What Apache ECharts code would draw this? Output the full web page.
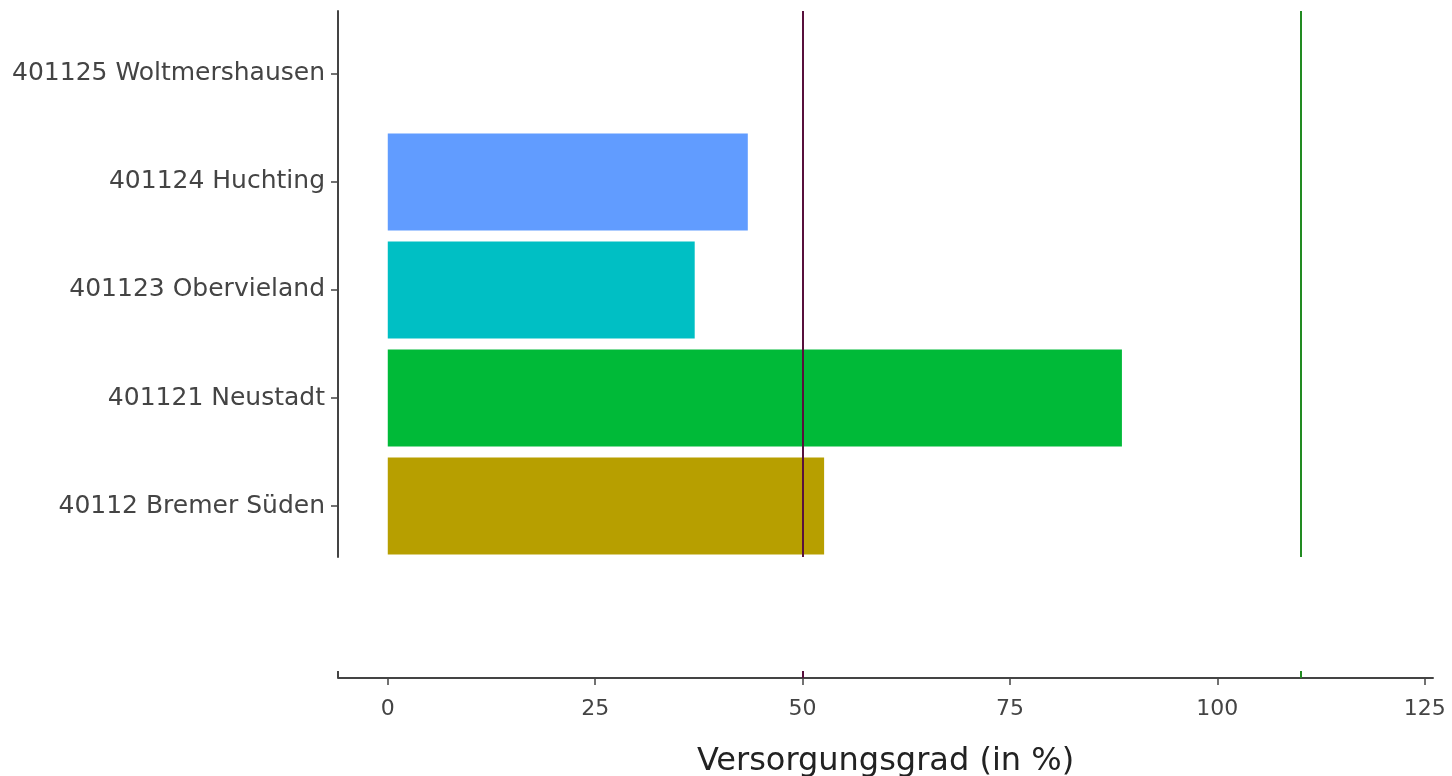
<!DOCTYPE html>
<html>
<head>
<meta charset="utf-8">
<script src="https://cdn.jsdelivr.net/npm/echarts@6/dist/echarts.min.js"></script>
<style>
html,body{margin:0;padding:0;background:#fff;}
#c{width:1452px;height:776px;}
</style>
</head>
<body>
<div id="c"></div>
<script>
// Data
const categories = ["40112 Bremer Süden", "401121 Neustadt", "401123 Obervieland", "401124 Huchting", "401125 Woltmershausen"];
const values = [52.6, 88.5, 37.0, 43.4, null];
const colors = ["#B79F00", "#00BA38", "#00BFC4", "#619CFF", "#F564E3"];
const xTicks = [0, 25, 50, 75, 100, 125];
const refLow = 50;
const refHigh = 110;
const xTitle = "Versorgungsgrad (in %)";

const FONT = "DejaVu Sans";
const barData = [];
values.forEach((v, i) => { if (v !== null) barData.push([v, i, i]); });

const chart = echarts.init(document.getElementById('c'), null, {renderer: 'canvas'});
const xMin = -6, xMax = 126;
const baseX = {
  type: 'value', min: xMin, max: xMax, position: 'bottom', offset: 121,
  splitLine: {show: false}
};
chart.setOption({
  animation: false,
  grid: {left: 338, right: 19, top: 11, bottom: 219, containLabel: false, outerBoundsMode: 'none'},
  xAxis: [
    Object.assign({}, baseX, {
      name: xTitle, nameLocation: 'middle', nameGap: 68,
      nameTextStyle: {fontFamily: FONT, fontSize: 32, color: '#222'},
      axisLine: {show: true, onZero: false, lineStyle: {color: '#444', width: 2}},
      axisTick: {show: true, length: 7, customValues: xTicks, lineStyle: {color: '#444', width: 1.5}},
      axisLabel: {customValues: xTicks, margin: 20, fontFamily: FONT, fontSize: 22, color: '#444'}
    }),
    Object.assign({}, baseX, {
      axisLine: {show: false, onZero: false},
      axisTick: {show: true, inside: true, length: 7, customValues: [refLow], lineStyle: {color: '#58103C', width: 2}},
      axisLabel: {show: false}
    }),
    Object.assign({}, baseX, {
      axisLine: {show: false, onZero: false},
      axisTick: {show: true, inside: true, length: 7, customValues: [refHigh], lineStyle: {color: '#228B22', width: 2}},
      axisLabel: {show: false}
    }),
    Object.assign({}, baseX, {
      axisLine: {show: false, onZero: false},
      axisTick: {show: true, inside: true, length: 7, customValues: [xMin], lineStyle: {color: '#444', width: 2}},
      axisLabel: {show: false}
    })
  ],
  yAxis: {
    type: 'value', min: -0.472, max: 4.583,
    splitLine: {show: false},
    axisLine: {show: true, onZero: false, lineStyle: {color: '#444', width: 2}},
    axisTick: {show: true, length: 7, customValues: [0, 1, 2, 3, 4], lineStyle: {color: '#444', width: 1.5}},
    axisLabel: {
      customValues: [0, 1, 2, 3, 4], margin: 13, fontFamily: FONT, fontSize: 25, color: '#444',
      formatter: v => categories[Math.round(v)]
    }
  },
  series: [
    {
      type: 'custom',
      xAxisIndex: 0,
      encode: {x: 0, y: 1},
      data: barData,
      renderItem: function (params, api) {
        const v = api.value(0), idx = api.value(1), ci = api.value(2);
        const p0 = api.coord([0, idx]);
        const p1 = api.coord([v, idx]);
        const h = api.size([0, 1])[1] * 0.9;
        return {
          type: 'rect',
          shape: {x: p0[0], y: p0[1] - h / 2, width: p1[0] - p0[0], height: h},
          style: {fill: colors[ci]}
        };
      },
      z: 2
    },
    {
      type: 'line',
      xAxisIndex: 0,
      data: [],
      z: 5,
      markLine: {
        silent: true, symbol: ['none', 'none'], label: {show: false},
        animation: false,
        data: [
          {xAxis: refLow, lineStyle: {color: '#58103C', width: 2, type: 'solid'}},
          {xAxis: refHigh, lineStyle: {color: '#228B22', width: 2, type: 'solid'}}
        ]
      }
    }
  ]
});
</script>
</body>
</html>
